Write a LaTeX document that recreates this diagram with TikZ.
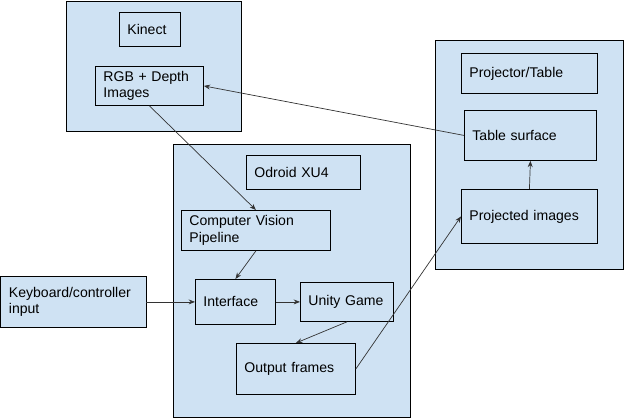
\documentclass[tikz,border=0pt]{standalone}
\usepackage{fontspec}
\setmainfont{Liberation Sans}
\usetikzlibrary{arrows.meta}
\definecolor{paleblue}{HTML}{CFE2F3}
\begin{document}
\begin{tikzpicture}[arrow/.style = {line width=0.5pt,black!80,-{Stealth[length=4.5pt,width=3.5pt]}},
                    box/.style = {draw,line width=0.6pt,fill=paleblue,anchor=north west,align=left,inner xsep=0.2cm,inner ysep=0pt}]
                    \useasboundingbox (0,0) rectangle (15.6,10.475);
                    % Kinect
                    \draw[line width=0.6pt,fill=paleblue] (1.65,7.2) rectangle (6.025,10.45);
                    \node[box, text width=1.125cm, minimum height=0.85cm] (kinect) at (2.975,10.175) {Kinect};
                    \node[box, text width=2.3cm, minimum height=0.975cm] (rgb) at (2.375,8.825) {RGB + Depth\\Images};

                    % Odroid
                    \draw[line width=0.6pt,fill=paleblue] (4.325,0.05) rectangle (10.25,6.875);
                    \node[box, text width=2.45cm, minimum height=0.85cm] (odroid) at (6.15,6.6) {Odroid XU4};
                    \node[box, text width=3.325cm, minimum height=1cm] (cv) at (4.525,5.225) {Computer Vision\\Pipeline};
                    \node[box, text width=1.6cm, minimum height=1.125cm] (iface) at (4.875,3.5) {Interface};
                    \node[box, text width=1.925cm, minimum height=0.975cm] (unity) at (7.5,3.425) {Unity Game};
                    \node[box, text width=2.575cm, minimum height=1.275cm] (frames) at (5.9,1.9) {Output frames};

                    % Projector
                    \draw[line width=0.6pt,fill=paleblue] (10.875,3.75) rectangle (15.575,9.475);
                    \node[box, text width=3cm, minimum height=1cm] (projector) at (11.525,9.15) {Projector/Table};
                    \node[box, text width=2.9cm, minimum height=1.25cm] (table) at (11.6,7.725) {Table surface};
                    \node[box, text width=3cm, minimum height=1.35cm] (projected) at (11.525,5.75) {Projected images};

                    \node[box, text width=3.225cm, minimum height=1.275cm] (keys) at (0.0125,3.575) {Keyboard/controller\\input};

                    \draw[arrow] (table.west) -- (rgb.east);
                    \draw[arrow] (rgb.south) -- (cv.north);
                    \draw[arrow] (cv.south) -- (iface.north);
                    \draw[arrow] (keys.east) -- (iface.west);
                    \draw[arrow] (iface.east) -- (unity.west);
                    \draw[arrow] (unity.south) -- (frames.north);
                    \draw[arrow] (frames.east) -- (projected.west);
                    \draw[arrow] (projected.north) -- (table.south);
                \end{tikzpicture}
\end{document}
